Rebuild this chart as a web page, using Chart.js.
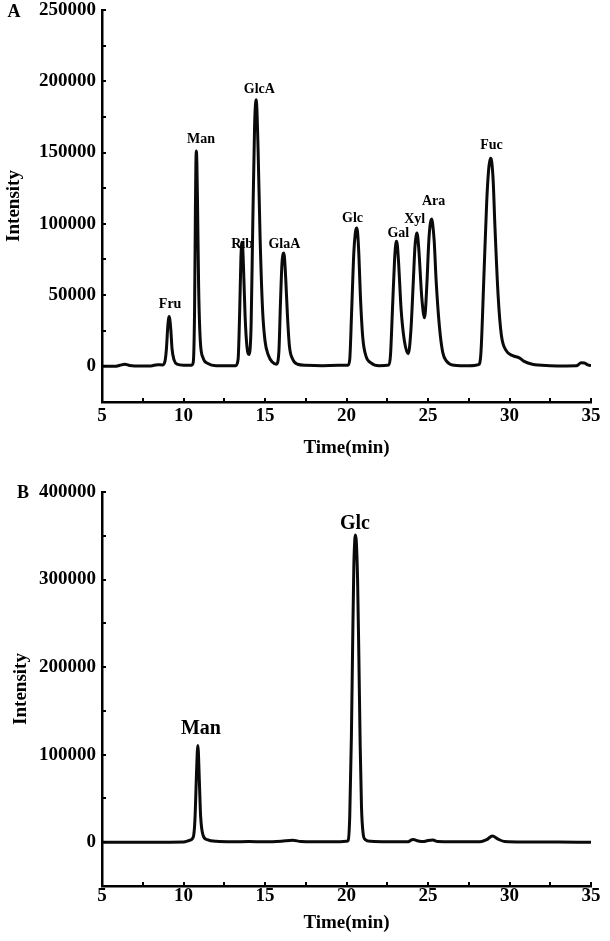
<!DOCTYPE html>
<html>
<head>
<meta charset="utf-8">
<script src="https://cdn.jsdelivr.net/npm/chart.js@4.4.1/dist/chart.umd.min.js"></script>
<style>
  html, body { margin: 0; padding: 0; background: #fff; }
  body { width: 610px; height: 941px; position: relative; overflow: hidden; }
  .panel { position: absolute; left: 0; width: 610px; }
  #wrapA { top: 0; height: 465px; }
  #wrapB { top: 470px; height: 471px; }
</style>
</head>
<body>
<div class="panel" id="wrapA"><canvas id="chartA"></canvas></div>
<div class="panel" id="wrapB"><canvas id="chartB"></canvas></div>
<script>
// ---------- Panel A : standard monosaccharide mixture ----------
const timeA = [5.0, 5.8, 6.1, 6.4, 6.7, 7.0, 8.0, 8.4, 8.7, 8.85, 8.95, 9.03, 9.08, 9.12, 9.16, 9.22, 9.3, 9.42, 9.6, 10.0,
  10.5, 10.6, 10.68, 10.73, 10.76, 10.79, 10.82, 10.86, 10.93, 11.03, 11.2, 11.5, 12.0,
  13.2, 13.35, 13.45, 13.52, 13.56, 13.59, 13.63, 13.68, 13.78, 13.9, 14.03,
  14.15, 14.25, 14.36, 14.41, 14.45, 14.5, 14.58, 14.7, 14.85, 15.0, 15.2, 15.45, 15.7,
  15.85, 15.95, 16.04, 16.1, 16.14, 16.19, 16.27, 16.38, 16.5, 16.7, 17.0, 17.5, 18.5, 19.5,
  20.1, 20.2, 20.32, 20.45, 20.54, 20.6, 20.63, 20.68, 20.76, 20.85, 21.0, 21.2, 21.5, 22.0,
  22.6, 22.7, 22.82, 22.95, 23.02, 23.07, 23.12, 23.2, 23.35, 23.55, 23.79,
  23.95, 24.1, 24.2, 24.27, 24.32, 24.37, 24.45, 24.62, 24.79,
  24.92, 25.05, 25.14, 25.22, 25.28, 25.38, 25.5, 25.7, 25.9, 26.15, 26.6, 27.5,
  28.1, 28.25, 28.42, 28.6, 28.72, 28.8, 28.85, 28.91, 29.0, 29.1, 29.3, 29.5, 29.8, 30.2, 30.6, 30.9, 31.4,
  32.5, 33.5, 34.1, 34.4, 34.6, 34.8, 35.0];
const intensityA = [0, 0, 800, 1500, 600, 300, 300, 1200, 1000, 3000, 12000, 27000, 33000, 35000, 33000, 26000, 12000, 4500, 1500, 800,
  800, 3000, 40000, 110000, 142000, 151000, 143000, 115000, 55000, 18000, 6000, 2000, 500,
  500, 5000, 40000, 75000, 85000, 87000, 84000, 70000, 35000, 13000, 8400,
  30000, 100000, 168000, 183000, 187000, 181000, 150000, 90000, 40000, 18000, 8000, 3000, 1500,
  10000, 45000, 72000, 78500, 79600, 77000, 62000, 35000, 14000, 5000, 1500, 800, 500, 700,
  800, 5000, 40000, 80000, 93500, 96800, 97000, 94000, 78000, 50000, 20000, 7000, 2500, 500,
  1000, 8000, 40000, 75000, 85500, 87700, 85000, 72000, 40000, 18000, 8900,
  25000, 60000, 84000, 91500, 93600, 91000, 80000, 48000, 34100,
  55000, 88000, 100000, 103400, 100500, 88000, 60000, 28000, 10000, 3500, 800, 400,
  1200, 10000, 60000, 115000, 138000, 144500, 146000, 143500, 130000, 100000, 50000, 22000, 11000, 7500, 6000, 3500, 1500,
  500, 300, 400, 2500, 2400, 1000, 500];

const peakNamesA = ['Fru', 'Man', 'Rib', 'GlcA', 'GlaA', 'Glc', 'Gal', 'Xyl', 'Ara', 'Fuc'];
const peakLabelTimeA = [9.18, 11.07, 13.6, 14.65, 16.19, 20.37, 23.18, 24.18, 25.34, 28.89];
const peakLabelIntensityA = [43400, 158900, 85400, 194400, 85400, 103600, 93600, 103400, 115700, 154700];

const yTicksA = [0, 50000, 100000, 150000, 200000, 250000];
const yMinorA = [0, 25000, 50000, 75000, 100000, 125000, 150000, 175000, 200000, 225000, 250000];

// ---------- Panel B : sample ----------
const timeB = [5.0, 8.0, 10.0, 10.35, 10.6, 10.7, 10.8, 10.85, 10.88, 10.91, 10.97, 11.05, 11.2, 11.45, 12.0, 13.0, 14.0, 15.0,
  16.0, 16.7, 17.2, 18.0, 19.5, 20.0, 20.1, 20.2, 20.3, 20.38, 20.45, 20.51, 20.55, 20.6, 20.68, 20.76, 20.84, 20.92, 21.02, 21.15,
  21.5, 22.5, 23.8, 23.95, 24.1, 24.4, 24.7, 25.0, 25.3, 25.6, 26.5, 28.2, 28.6, 28.95, 29.3, 29.7, 31.0, 33.0, 35.0];
const intensityB = [0, 0, 300, 2000, 6000, 25000, 80000, 104000, 110600, 104000, 72000, 30000, 8000, 3000, 1000, 500, 700, 500,
  1200, 2300, 800, 500, 500, 1000, 2000, 30000, 120000, 230000, 315000, 346000, 351000, 344000, 300000, 210000, 110000, 40000, 10000, 3000,
  1000, 500, 500, 2500, 3000, 1500, 800, 2000, 2500, 800, 500, 500, 3000, 7000, 3500, 800, 300, 200, 0];

const peakNamesB = ['Man', 'Glc'];
const peakLabelTimeB = [11.07, 20.52];
const peakLabelIntensityB = [130000, 363300];

const yTicksB = [0, 100000, 200000, 300000, 400000];
const yMinorB = [0, 50000, 100000, 150000, 200000, 250000, 300000, 350000, 400000];

const xTicks = [5, 10, 15, 20, 25, 30, 35];
const xMinor = [5, 7.5, 10, 12.5, 15, 17.5, 20, 22.5, 25, 27.5, 30, 32.5, 35];

const SERIF = '"Liberation Serif", "Times New Roman", "DejaVu Serif", serif';

function makeChart(id, cfg) {
  const pts = cfg.time.map((t, i) => ({ x: t, y: cfg.intensity[i] }));
  const tickPlugin = {
    id: 'inwardTicks',
    afterDraw(chart) {
      const ctx = chart.ctx;
      const xs = chart.scales.x, ys = chart.scales.y;
      ctx.save();
      ctx.strokeStyle = '#000';
      ctx.lineWidth = 2;
      const ax = xs.left, ay = ys.bottom;
      cfg.yMinor.forEach(v => {
        const py = Math.round(ys.getPixelForValue(v));
        ctx.beginPath(); ctx.moveTo(ax, py); ctx.lineTo(ax + 4, py); ctx.stroke();
      });
      xMinor.forEach(v => {
        const px = Math.round(xs.getPixelForValue(v));
        ctx.beginPath(); ctx.moveTo(px, ay); ctx.lineTo(px, ay - 4); ctx.stroke();
      });
      ctx.restore();
    },
    beforeDatasetsDraw(chart) {
      const ctx = chart.ctx;
      const xs = chart.scales.x, ys = chart.scales.y;
      ctx.save();
      ctx.fillStyle = '#000';
      ctx.font = 'bold ' + cfg.peakFont + 'px ' + SERIF;
      ctx.textAlign = 'center';
      ctx.textBaseline = 'middle';
      cfg.names.forEach((n, i) => {
        ctx.fillText(n, xs.getPixelForValue(cfg.labelT[i]), ys.getPixelForValue(cfg.labelI[i]));
      });
      ctx.font = 'bold 18px ' + SERIF;
      ctx.fillText(cfg.letter, cfg.letterX, cfg.letterY);
      ctx.restore();
    }
  };
  return new Chart(document.getElementById(id), {
    type: 'line',
    data: { datasets: [{ data: pts, borderColor: '#0a0a0a', borderWidth: 3, pointRadius: 0,
      cubicInterpolationMode: 'monotone', fill: false }] },
    options: {
      responsive: true, maintainAspectRatio: false, animation: false,
      layout: { padding: { left: 0, right: 19, top: cfg.top, bottom: 0 } },
      plugins: { legend: { display: false }, tooltip: { enabled: false } },
      scales: {
        x: {
          type: 'linear', min: 5, max: 35,
          afterBuildTicks: s => { s.ticks = xTicks.map(v => ({ value: v })); },
          afterFit: s => { s.height = cfg.xHeight; s.paddingLeft = 0; s.paddingRight = 0; },
          grid: { display: true, drawOnChartArea: false, drawTicks: false },
          border: { display: true, color: '#000', width: 2.5 },
          ticks: { color: '#000', padding: cfg.xPad, maxRotation: 0, autoSkip: false,
            font: { family: SERIF, size: 19, weight: 'bold', lineHeight: 1 } },
          title: { display: true, text: 'Time(min)', color: '#000',
            font: { family: SERIF, size: 19, weight: 'bold', lineHeight: 1.2 },
            padding: { top: 0, bottom: cfg.xTitlePad } }
        },
        y: {
          type: 'linear', min: cfg.yMin, max: cfg.yMax,
          afterBuildTicks: s => { s.ticks = cfg.yTicks.map(v => ({ value: v })); },
          afterFit: s => { s.width = 102; s.paddingTop = 0; s.paddingBottom = 0; },
          grid: { display: true, drawOnChartArea: false, drawTicks: false },
          border: { display: true, color: '#000', width: 2.5 },
          ticks: { color: '#000', padding: 6, autoSkip: false, callback: v => String(v),
            font: { family: SERIF, size: 19, weight: 'bold', lineHeight: 1 } },
          title: { display: true, text: 'Intensity', color: '#000',
            font: { family: SERIF, size: 19, weight: 'bold', lineHeight: 1.2 },
            padding: { top: cfg.yTitlePad, bottom: 0 } }
        }
      }
    },
    plugins: [tickPlugin]
  });
}

makeChart('chartA', {
  time: timeA, intensity: intensityA, names: peakNamesA, labelT: peakLabelTimeA, labelI: peakLabelIntensityA,
  yTicks: yTicksA, yMinor: yMinorA, yMin: -25000, yMax: 250000, peakFont: 14,
  top: 10, xHeight: 63, xPad: 4.5, xTitlePad: 5.5, yTitlePad: 2.6,
  letter: 'A', letterX: 14, letterY: 12
});
makeChart('chartB', {
  time: timeB, intensity: intensityB, names: peakNamesB, labelT: peakLabelTimeB, labelI: peakLabelIntensityB,
  yTicks: yTicksB, yMinor: yMinorB, yMin: -50000, yMax: 400000, peakFont: 20,
  top: 22, xHeight: 55, xPad: 0.5, xTitlePad: 6.6, yTitlePad: 9.6,
  letter: 'B', letterX: 23, letterY: 23
});
</script>
</body>
</html>
